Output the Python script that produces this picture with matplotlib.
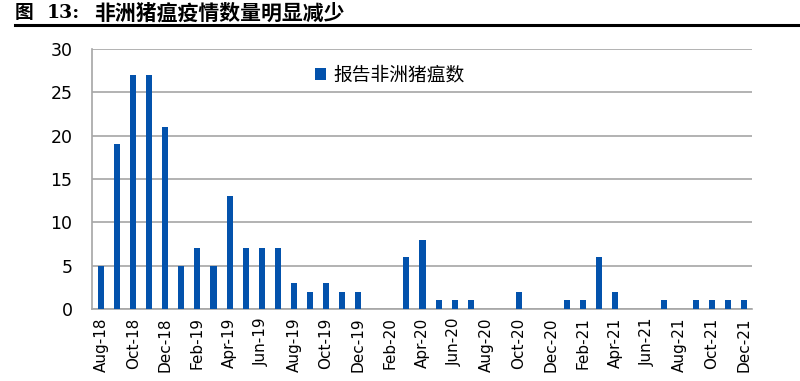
import matplotlib
matplotlib.use("Agg")
import matplotlib.pyplot as plt
import numpy as np

plt.rcParams['font.family'] = ['DejaVu Sans', 'Noto Sans CJK SC']

months = ["Aug-18","Sep-18","Oct-18","Nov-18","Dec-18","Jan-19","Feb-19","Mar-19","Apr-19","May-19",
          "Jun-19","Jul-19","Aug-19","Sep-19","Oct-19","Nov-19","Dec-19","Jan-20","Feb-20","Mar-20",
          "Apr-20","May-20","Jun-20","Jul-20","Aug-20","Sep-20","Oct-20","Nov-20","Dec-20","Jan-21",
          "Feb-21","Mar-21","Apr-21","May-21","Jun-21","Jul-21","Aug-21","Sep-21","Oct-21","Nov-21","Dec-21"]
cases = [5, 19, 27, 27, 21, 5, 7, 5, 13, 7,
         7, 7, 3, 2, 3, 2, 2, 0, 0, 6,
         8, 1, 1, 1, 0, 0, 2, 0, 0, 1,
         1, 6, 2, 0, 0, 1, 0, 1, 1, 1, 1]
series_name = "报告非洲猪瘟数"
title_prefix = "图"
title_num = "13:"
title_main = "非洲猪瘟疫情数量明显减少"
yticks = [0, 5, 10, 15, 20, 25, 30]

fig = plt.figure(figsize=(8, 3.81), dpi=100)
ax = fig.add_axes([0.115, 0.189, 0.825, 0.682])

x = np.arange(len(months))
ax.bar(x, cases, width=0.38, color='#0352AC', label=series_name, zorder=3)

ax.set_ylim(0, 30)
ax.set_yticks(yticks)
ax.set_xlim(-0.56, 40.5)
ax.set_xticks(x[::2])
ax.set_xticklabels(months[::2], rotation=90, fontsize=11)
ax.tick_params(axis='y', labelsize=12.5, length=0, pad=14)
ax.tick_params(axis='x', length=0, pad=6)
ax.yaxis.grid(True, color='#A6A6A6', linewidth=1.2, zorder=0)
for s in ['top', 'right']:
    ax.spines[s].set_visible(False)
for s in ['left', 'bottom']:
    ax.spines[s].set_color('#A6A6A6')
    ax.spines[s].set_linewidth(1.2)

leg = ax.legend(loc='upper left', bbox_to_anchor=(0.313, 1.005), frameon=False,
                prop={'family': ['Noto Sans CJK SC'], 'size': 13.5},
                handlelength=0.55, handleheight=0.55, handletextpad=0.4)

tfam = ['Noto Sans CJK SC', 'DejaVu Sans']
fig.text(15/800, 0.966, title_prefix, fontsize=13.5, fontweight='bold', family=tfam, va='center', ha='left')
fig.text(47/800, 0.966, title_num, fontsize=13.5, fontweight='bold', family=['DejaVu Serif'], va='center', ha='left')
fig.text(94/800, 0.966, title_main, fontsize=15, fontweight='bold', family=tfam, va='center', ha='left')
fig.add_artist(plt.Line2D([15/800, 1.0], [0.934, 0.934], color='black', linewidth=2.2,
                          transform=fig.transFigure))

fig.savefig('out.png', dpi=100)
